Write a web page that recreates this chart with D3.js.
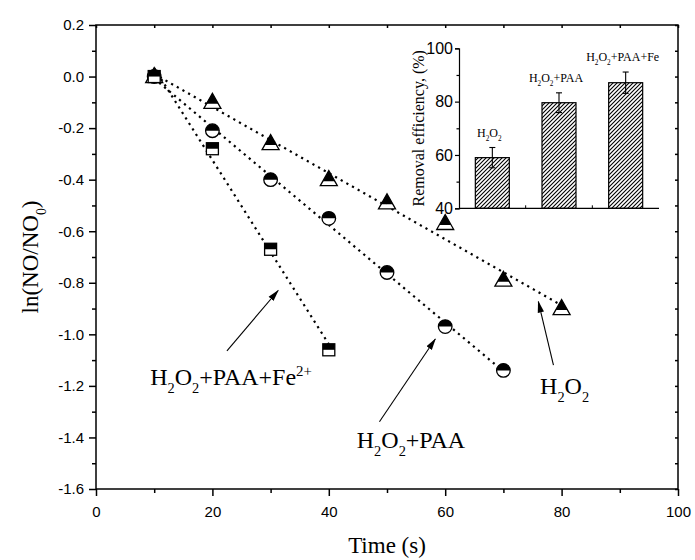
<!DOCTYPE html>
<html>
<head>
<meta charset="utf-8">
<script src="https://cdn.jsdelivr.net/npm/d3@7/dist/d3.min.js"></script>
<style>
  body { margin: 0; background: #fff; }
  svg { display: block; }
</style>
</head>
<body>
<svg id="chart" width="695" height="560"></svg>
<script>
// ---- data -------------------------------------------------------------
const times = [10, 20, 30, 40, 50, 60, 70, 80];
const seriesH2O2 = [0.00, -0.10, -0.26, -0.40, -0.49, -0.57, -0.79, -0.90];
const seriesH2O2PAA = [0.00, -0.21, -0.40, -0.55, -0.76, -0.97, -1.14];
const seriesH2O2PAAFe = [0.00, -0.28, -0.67, -1.06];

const xTickValues = [0, 20, 40, 60, 80, 100];
const xMinorValues = [10, 30, 50, 70, 90];
const yTickValues = [0.2, 0.0, -0.2, -0.4, -0.6, -0.8, -1.0, -1.2, -1.4, -1.6];
const yMinorValues = [0.1, -0.1, -0.3, -0.5, -0.7, -0.9, -1.1, -1.3, -1.5];

const insetCategories = ["H_2O_2", "H_2O_2+PAA", "H_2O_2+PAA+Fe"];
const insetValues = [59.0, 79.6, 87.1];
const insetErrors = [3.8, 3.7, 4.0];
const insetTickValues = [40, 60, 80, 100];
const insetMinorValues = [50, 70, 90];

// ---- layout -----------------------------------------------------------
const svg = d3.select("#chart");
const serif = "'Liberation Serif', 'Times New Roman', Times, serif";
const sans = "'Liberation Sans', Arial, Helvetica, sans-serif";

const plot = { left: 96, right: 678, top: 25, bottom: 489 };
const x = d3.scaleLinear().domain([0, 100]).range([plot.left, plot.right]);
const y = d3.scaleLinear().domain([-1.6, 0.2]).range([plot.bottom, plot.top]);

const defs = svg.append("defs");
defs.append("marker")
  .attr("id", "arrowhead")
  .attr("viewBox", "0 0 12 8")
  .attr("refX", 11).attr("refY", 4)
  .attr("markerWidth", 12).attr("markerHeight", 8)
  .attr("markerUnits", "userSpaceOnUse")
  .attr("orient", "auto")
  .append("path").attr("d", "M0,0.8 L12,4 L0,7.2 Z").attr("fill", "#000");

const hatch = defs.append("pattern")
  .attr("id", "hatch")
  .attr("patternUnits", "userSpaceOnUse")
  .attr("width", 4).attr("height", 4);
hatch.append("rect").attr("width", 4).attr("height", 4).attr("fill", "#fff");
hatch.append("path")
  .attr("d", "M-1,1 L1,-1 M0,4 L4,0 M3,5 L5,3")
  .attr("stroke", "#000").attr("stroke-width", 1.1);

// text with _x subscripts and ^{..} superscripts
function richText(sel, str, size) {
  const re = /_(.)|\^\{([^}]*)\}|([^_^]+)/g;
  let m, shift = 0;
  while ((m = re.exec(str))) {
    let txt, target, fs;
    if (m[1] !== undefined) { txt = m[1]; target = 0.34 * size; fs = 0.6 * size; }
    else if (m[2] !== undefined) { txt = m[2]; target = -0.36 * size; fs = 0.62 * size; }
    else { txt = m[3]; target = 0; fs = size; }
    sel.append("tspan").attr("dy", target - shift).attr("font-size", fs).text(txt);
    shift = target;
  }
  return sel;
}

// ---- axes -------------------------------------------------------------
const axisG = svg.append("g");
function styleAxis(g) {
  g.select(".domain").remove();
  g.selectAll(".tick line").attr("stroke", "#000").attr("stroke-width", 1.5);
  g.selectAll("text").attr("font-family", sans).attr("font-size", 15).attr("fill", "#000");
}

axisG.append("g").attr("transform", `translate(0,${plot.bottom})`)
  .call(d3.axisBottom(x).tickValues(xTickValues).tickSize(7).tickPadding(10).tickFormat(d3.format("d")))
  .call(styleAxis);
axisG.append("g").attr("transform", `translate(0,${plot.bottom})`)
  .call(d3.axisBottom(x).tickValues(xMinorValues).tickSize(4).tickFormat(""))
  .call(styleAxis);
axisG.append("g").attr("transform", `translate(${plot.left},0)`)
  .call(d3.axisLeft(y).tickValues(yTickValues).tickSize(7).tickPadding(5).tickFormat(d => d.toFixed(1)))
  .call(styleAxis);
axisG.append("g").attr("transform", `translate(${plot.left},0)`)
  .call(d3.axisLeft(y).tickValues(yMinorValues).tickSize(4).tickFormat(""))
  .call(styleAxis);
// mirrored inward ticks on top and right
axisG.append("g").attr("transform", `translate(0,${plot.top})`)
  .call(d3.axisTop(x).tickValues(xTickValues.concat(xMinorValues)).tickSize(-3).tickFormat(""))
  .call(styleAxis);
axisG.append("g").attr("transform", `translate(${plot.right},0)`)
  .call(d3.axisRight(y).tickValues(yTickValues.concat(yMinorValues)).tickSize(-3).tickFormat(""))
  .call(styleAxis);

svg.append("rect")
  .attr("x", plot.left).attr("y", plot.top)
  .attr("width", plot.right - plot.left).attr("height", plot.bottom - plot.top)
  .attr("fill", "none").attr("stroke", "#000").attr("stroke-width", 1.5);

svg.append("text")
  .attr("x", (plot.left + plot.right) / 2).attr("y", 553)
  .attr("text-anchor", "middle")
  .attr("font-family", serif).attr("font-size", 23)
  .text("Time (s)");

richText(svg.append("text")
  .attr("transform", `translate(38,${(plot.top + plot.bottom) / 2}) rotate(-90)`)
  .attr("text-anchor", "middle")
  .attr("font-family", serif).attr("font-size", 23), "ln(NO/NO_0)", 23);

// ---- fitted lines -----------------------------------------------------
function linearFit(xs, ys) {
  const n = ys.length;
  const mx = d3.mean(xs.slice(0, n)), my = d3.mean(ys);
  let sxy = 0, sxx = 0;
  for (let i = 0; i < n; i++) { sxy += (xs[i] - mx) * (ys[i] - my); sxx += (xs[i] - mx) ** 2; }
  const b = sxy / sxx, a = my - b * mx;
  return t => a + b * t;
}

const allSeries = [
  { values: seriesH2O2, shape: "triangle" },
  { values: seriesH2O2PAA, shape: "circle" },
  { values: seriesH2O2PAAFe, shape: "square" }
];

const fitG = svg.append("g");
allSeries.forEach(s => {
  const f = linearFit(times, s.values);
  const t0 = times[0], t1 = times[s.values.length - 1];
  fitG.append("line")
    .attr("x1", x(t0)).attr("y1", y(f(t0)))
    .attr("x2", x(t1)).attr("y2", y(f(t1)))
    .attr("stroke", "#000").attr("stroke-width", 2.2)
    .attr("stroke-dasharray", "2.2,4.3");
});

// ---- half-filled markers ---------------------------------------------
const markG = svg.append("g");
function drawMarker(g, shape) {
  const sw = 1.3;
  if (shape === "triangle") {
    // apex at top, filled above the split line
    const top = -9, base = 6, hw = 8.5, split = 1.5;
    const w = hw * (split - top) / (base - top);
    g.append("path").attr("d", `M${-w},${split} L${w},${split} L${hw},${base} L${-hw},${base} Z`)
      .attr("fill", "#fff");
    g.append("path").attr("d", `M0,${top} L${w},${split} L${-w},${split} Z`).attr("fill", "#000");
    g.append("path").attr("d", `M0,${top} L${hw},${base} L${-hw},${base} Z`)
      .attr("fill", "none").attr("stroke", "#000").attr("stroke-width", sw).attr("stroke-linejoin", "miter");
  } else if (shape === "circle") {
    const r = 6.8;
    g.append("circle").attr("r", r).attr("fill", "#fff");
    g.append("path").attr("d", `M${-r},0 A${r},${r} 0 0 1 ${r},0 Z`).attr("fill", "#000");
    g.append("circle").attr("r", r).attr("fill", "none").attr("stroke", "#000").attr("stroke-width", sw);
  } else {
    const h = 6;
    g.append("rect").attr("x", -h).attr("y", -h).attr("width", 2 * h).attr("height", 2 * h).attr("fill", "#fff");
    g.append("rect").attr("x", -h).attr("y", -h).attr("width", 2 * h).attr("height", h).attr("fill", "#000");
    g.append("rect").attr("x", -h).attr("y", -h).attr("width", 2 * h).attr("height", 2 * h)
      .attr("fill", "none").attr("stroke", "#000").attr("stroke-width", sw);
  }
}
allSeries.forEach(s => {
  s.values.forEach((v, i) => {
    const g = markG.append("g").attr("transform", `translate(${x(times[i])},${y(v)})`);
    drawMarker(g, s.shape);
  });
});

// ---- annotations ------------------------------------------------------
const notes = [
  { label: "H_2O_2+PAA+Fe^{2+}", tx: 9.3, ty: -1.196, from: [22.5, -1.064], to: [31.3, -0.830] },
  { label: "H_2O_2+PAA", tx: 44.8, ty: -1.441, from: [48.7, -1.339], to: [58.3, -1.018] },
  { label: "H_2O_2", tx: 76.3, ty: -1.231, from: [78.6, -1.119], to: [76.0, -0.873] }
];
const noteG = svg.append("g");
notes.forEach(n => {
  noteG.append("line")
    .attr("x1", x(n.from[0])).attr("y1", y(n.from[1]))
    .attr("x2", x(n.to[0])).attr("y2", y(n.to[1]))
    .attr("stroke", "#000").attr("stroke-width", 1.1)
    .attr("marker-end", "url(#arrowhead)");
  richText(noteG.append("text")
    .attr("x", x(n.tx)).attr("y", y(n.ty))
    .attr("font-family", serif).attr("font-size", 24), n.label, 24);
});

// ---- inset: removal efficiency bars ----------------------------------
const inset = { left: 459, right: 659, top: 48.3, bottom: 208.3 };
const xi = d3.scaleBand().domain(insetCategories).range([inset.left, inset.right])
  .paddingInner(0.49).paddingOuter(0.245);
const yi = d3.scaleLinear().domain([40, 100]).range([inset.bottom, inset.top]);
const insetG = svg.append("g");

insetG.selectAll("rect.bar").data(insetCategories).join("rect")
  .attr("class", "bar")
  .attr("x", d => xi(d)).attr("width", xi.bandwidth())
  .attr("y", (d, i) => yi(insetValues[i]))
  .attr("height", (d, i) => yi(40) - yi(insetValues[i]))
  .attr("fill", "url(#hatch)").attr("stroke", "#000").attr("stroke-width", 1.2);

insetCategories.forEach((c, i) => {
  const cx = xi(c) + xi.bandwidth() / 2;
  const hi = yi(insetValues[i] + insetErrors[i]), lo = yi(insetValues[i] - insetErrors[i]);
  insetG.append("line").attr("x1", cx).attr("x2", cx).attr("y1", hi).attr("y2", lo)
    .attr("stroke", "#000").attr("stroke-width", 1.1);
  [hi, lo].forEach(yy => insetG.append("line")
    .attr("x1", cx - 3).attr("x2", cx + 3).attr("y1", yy).attr("y2", yy)
    .attr("stroke", "#000").attr("stroke-width", 1.1));
  richText(insetG.append("text")
    .attr("x", cx - 3).attr("y", hi - 11)
    .attr("text-anchor", "middle")
    .attr("font-family", serif).attr("font-size", 12), c, 12);
});

const insetYAxis = insetG.append("g").attr("transform", `translate(${inset.left},0)`)
  .call(d3.axisLeft(yi).tickValues(insetTickValues).tickSize(4).tickPadding(2).tickFormat(d3.format("d")));
insetYAxis.select(".domain").attr("stroke", "#000").attr("stroke-width", 1.2);
insetYAxis.selectAll(".tick line").attr("stroke-width", 1.2);
insetYAxis.selectAll("text").attr("font-family", sans).attr("font-size", 16).attr("fill", "#000");
insetG.append("g").attr("transform", `translate(${inset.left},0)`)
  .call(d3.axisLeft(yi).tickValues(insetMinorValues).tickSize(2.5).tickFormat(""))
  .call(g => { g.select(".domain").remove(); g.selectAll(".tick line").attr("stroke-width", 1.2); });

insetG.append("line")
  .attr("x1", inset.left).attr("x2", inset.right)
  .attr("y1", inset.bottom).attr("y2", inset.bottom)
  .attr("stroke", "#000").attr("stroke-width", 1.2);
insetG.selectAll("line.sep").data(insetCategories.slice(1)).join("line")
  .attr("class", "sep")
  .attr("x1", d => xi(d) - xi.step() * xi.paddingInner() / 2)
  .attr("x2", d => xi(d) - xi.step() * xi.paddingInner() / 2)
  .attr("y1", inset.bottom).attr("y2", inset.bottom - 3)
  .attr("stroke", "#000").attr("stroke-width", 1);

insetG.append("text")
  .attr("transform", `translate(424,${(inset.top + inset.bottom) / 2}) rotate(-90)`)
  .attr("text-anchor", "middle")
  .attr("font-family", serif).attr("font-size", 16)
  .text("Removal efficiency, (%)");
</script>
</body>
</html>
